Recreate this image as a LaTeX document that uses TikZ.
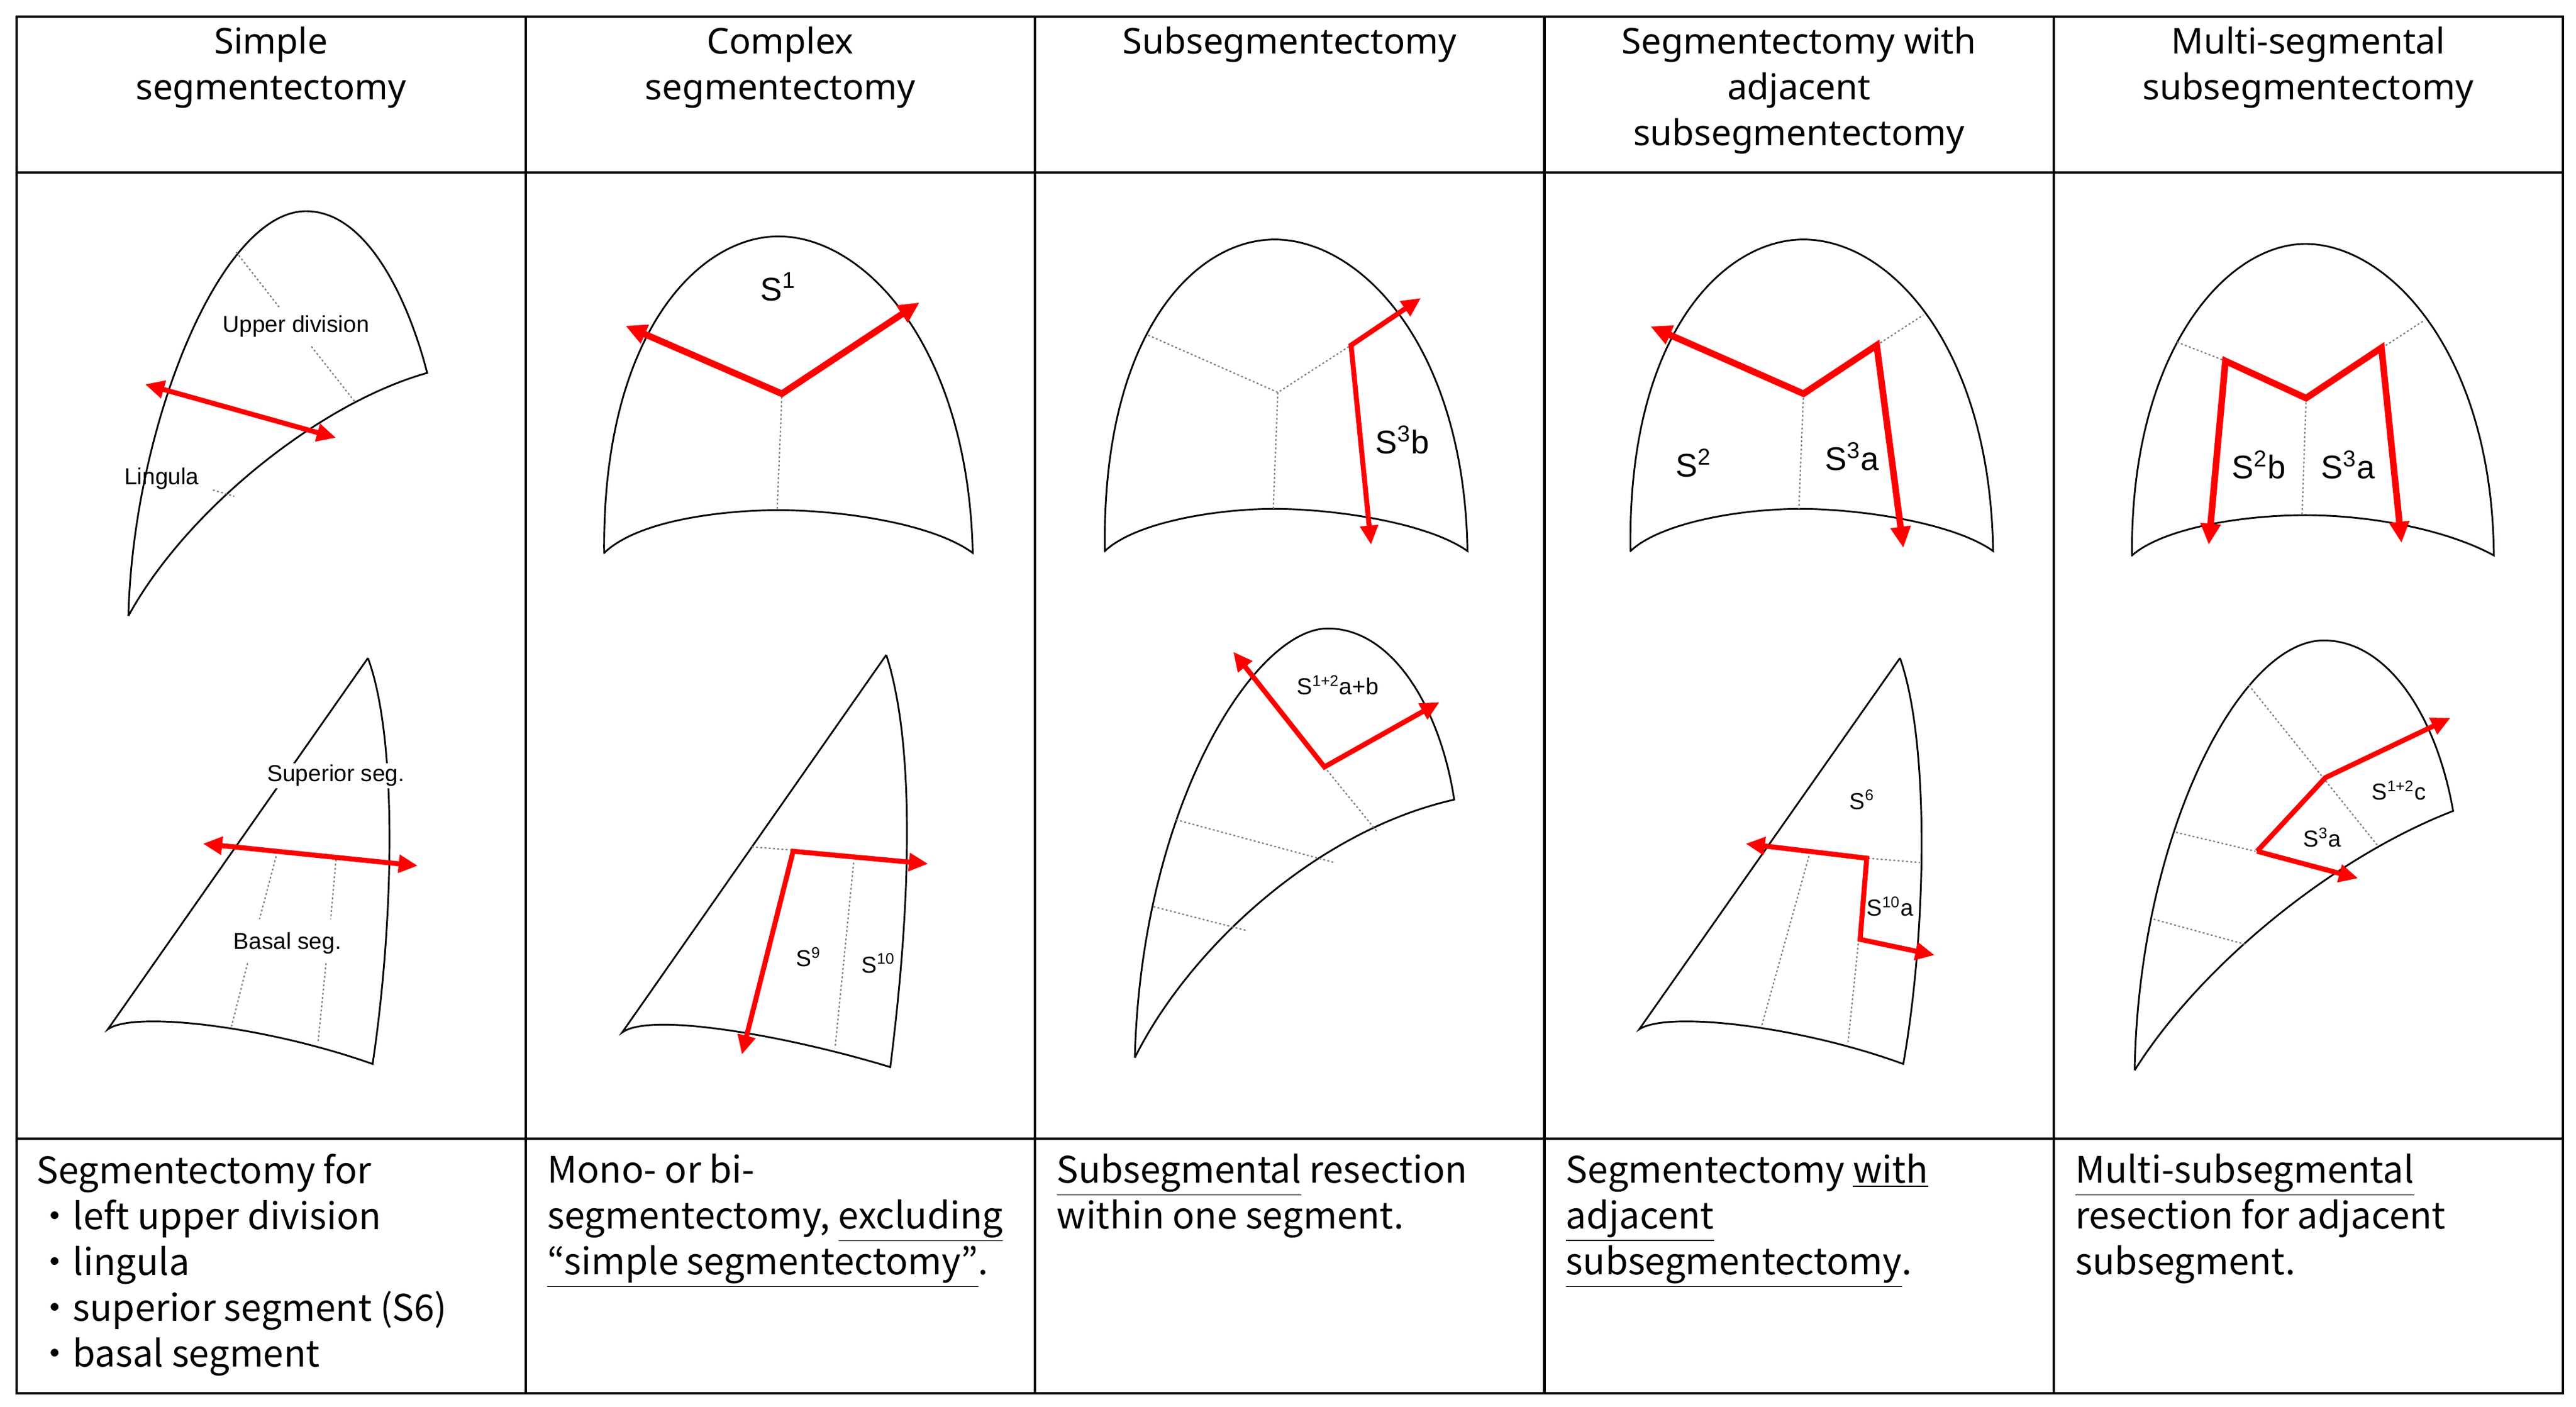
\documentclass[tikz,border=0pt]{standalone}
\usepackage{fontspec}
\setmainfont{Noto Sans CJK JP}
\newfontfamily\hdfont{Noto Sans}
\newfontfamily\lbfont{Liberation Sans}
\usetikzlibrary{arrows.meta}
\begin{document}
\begin{tikzpicture}[x=0.03cm,y=-0.03cm,
  grid/.style={line width=1.3pt,black},
  lobe/.style={line width=0.9pt,black},
  seg/.style={gray,line width=0.7pt,dash pattern=on 1pt off 1.2pt},
  cut/.style={red,line width=2.6pt,-{Triangle[length=10pt,width=9pt]}},
  bcut/.style={red,line width=2.6pt,{Triangle[length=10pt,width=9pt]}-{Triangle[length=10pt,width=9pt]}},
  tcut/.style={red,line width=3.4pt,-{Triangle[length=11pt,width=10pt]}},
  tbcut/.style={red,line width=3.4pt,{Triangle[length=11pt,width=10pt]}-{Triangle[length=11pt,width=10pt]}},
  head/.style={font=\hdfont\bfseries\fontsize{18.5}{23.8}\selectfont,align=center,anchor=north,inner sep=0pt},
  body/.style={font=\fontsize{19}{23.8}\selectfont,align=left,anchor=north west,inner sep=0pt},
  sl/.style={font=\lbfont\fontsize{12}{14}\selectfont,inner sep=1pt},
  bl/.style={font=\lbfont\fontsize{17}{20}\selectfont,inner sep=1pt}]
\useasboundingbox (0,0) rectangle (1568,856);
\fill[white] (0,0) rectangle (1568,856);
% table
\draw[grid] (10,10) rectangle (1560,848);
\draw[grid] (10,105) -- (1560,105);
\draw[grid] (10,693) -- (1560,693);
\foreach \x in {320,630,940,1250} \draw[grid] (\x,10) -- (\x,848);
% headers
\node[head] (h1) at (165,16) {Simple\\segmentectomy};
\node[head] (h2) at (475,16) {Complex\\segmentectomy};
\node[head] (h3) at (785,16) {Subsegmentectomy};
\node[head] (h4) at (1095,16) {Segmentectomy with\\adjacent\\subsegmentectomy};
\node[head] (h5) at (1405,16) {Multi-segmental\\subsegmentectomy};
% body texts
\node[body] (t1) at (22,702) {Segmentectomy for\\・left upper division\\・lingula\\・superior segment (S6)\\・basal segment};
\node[body] (t2) at (333,702) {Mono- or bi-\\segmentectomy, \underline{excluding}\\\underline{“simple segmentectomy”}.};
\node[body] (t3) at (643,702) {\underline{Subsegmental} resection\\within one segment.};
\node[body] (t4) at (953,702) {Segmentectomy \underline{with}\\\underline{adjacent}\\\underline{subsegmentectomy}.};
\node[body] (t5) at (1263,702) {\underline{Multi-subsegmental}\\resection for adjacent\\subsegment.};
% ---------- columns 1-2
\begin{scope}[shift={(0,88.3)},xscale=0.405,yscale=0.383]
 % panel 1 top
 \draw[lobe] (193,748) .. controls (200,450) and (330,105) .. (460,105) .. controls (560,105) and (620,270) .. (642,362) .. controls (480,410) and (280,580) .. (193,748);
 \draw[seg] (355,170) -- (420,258);
 \draw[seg] (468,320) -- (535,410);
 \draw[seg] (320,548) -- (352,558);
 \node[sl] (ud) at (445,288) {Upper division};
 \node[sl] (li) at (243,530) {Lingula};
 \coordinate (a1) at (218,380); \coordinate (a2) at (505,465);
 \draw[bcut] (a1) -- (a2);
 % panel 1 bottom
 \draw[lobe] (553,815) -- (162,1405) .. controls (200,1375) and (400,1400) .. (560,1460) .. controls (590,1250) and (600,950) .. (553,815);
 \draw[seg] (415,1130) -- (390,1230);
 \draw[seg] (505,1135) -- (497,1230);
 \draw[seg] (372,1300) -- (348,1400);
 \draw[seg] (490,1300) -- (478,1425);
 \node[sl,fill=white] (ss) at (505,1002) {Superior seg.};
 \node[sl,fill=white] (bs) at (432,1268) {Basal seg.};
 \coordinate (b1) at (305,1110); \coordinate (b2) at (628,1145);
 \draw[bcut] (b1) -- (b2);
 % panel 2 top
 \draw[lobe] (908,648) .. controls (905,300) and (1050,145) .. (1170,145) .. controls (1300,145) and (1455,320) .. (1462,648) .. controls (1400,600) and (1260,580) .. (1170,580) .. controls (1090,580) and (960,595) .. cycle;
 \draw[seg] (1175,400) -- (1168,580);
 \node[bl] (s1) at (1170,225) {S\textsuperscript{1}};
 \coordinate (c0) at (1175,395); \coordinate (c1) at (940,287); \coordinate (c2) at (1382,250);
 \draw[tbcut] (c1) -- (c0) -- (c2);
 % panel 2 bottom
 \draw[lobe] (1332,810) -- (935,1410) .. controls (980,1375) and (1200,1420) .. (1338,1465) .. controls (1370,1200) and (1375,950) .. (1332,810);
 \draw[seg] (1130,1115) -- (1190,1120);
 \draw[seg] (1283,1140) -- (1255,1435);
 \node[sl] (s9) at (1215,1290) {S\textsuperscript{9}};
 \node[sl] (s10) at (1320,1300) {S\textsuperscript{10}};
 \coordinate (d0) at (1192,1122); \coordinate (d1) at (1115,1445); \coordinate (d2) at (1395,1142);
 \draw[bcut] (d1) -- (d0) -- (d2);
\end{scope}
% ---------- columns 3-4
\begin{scope}[shift={(630,88.3)},xscale=0.405,yscale=0.383]
 % panel 3 top
 \draw[lobe] (105,645) .. controls (100,300) and (240,150) .. (360,150) .. controls (490,150) and (645,320) .. (650,645) .. controls (590,600) and (450,578) .. (360,578) .. controls (270,578) and (150,600) .. cycle;
 \draw[seg] (170,302) -- (365,393) -- (475,318);
 \draw[seg] (365,393) -- (358,578);
 \node[bl] (s3b) at (552,468) {S\textsuperscript{3}b};
 \coordinate (e0) at (475,318); \coordinate (e1) at (505,635); \coordinate (e2) at (580,243);
 \draw[bcut] (e1) -- (e0) -- (e2);
 % panel 3 bottom
 \draw[lobe] (150,1450) .. controls (160,1050) and (330,768) .. (440,768) .. controls (540,768) and (610,900) .. (630,1040) .. controls (420,1090) and (230,1280) .. (150,1450);
 \draw[seg] (435,988) -- (515,1092);
 \draw[seg] (212,1072) -- (450,1140);
 \draw[seg] (178,1210) -- (318,1248);
 \node[sl] (s12ab) at (455,858) {S\textsuperscript{1+2}a+b};
 \coordinate (f0) at (435,988); \coordinate (f1) at (298,805); \coordinate (f2) at (608,885);
 \draw[bcut] (f1) -- (f0) -- (f2);
 % panel 4 top
 \draw[lobe] (895,645) .. controls (890,300) and (1035,150) .. (1155,150) .. controls (1285,150) and (1435,320) .. (1440,645) .. controls (1380,600) and (1240,578) .. (1150,578) .. controls (1060,578) and (940,600) .. cycle;
 \draw[seg] (1155,395) -- (1148,578);
 \draw[seg] (1265,318) -- (1335,270);
 \node[bl] (s2) at (990,505) {S\textsuperscript{2}};
 \node[bl] (s3a) at (1228,495) {S\textsuperscript{3}a};
 \coordinate (g0) at (1155,395); \coordinate (g1) at (925,288); \coordinate (g2) at (1265,318); \coordinate (g3) at (1305,640);
 \draw[tbcut] (g1) -- (g0) -- (g2) -- (g3);
 % panel 4 bottom
 \draw[lobe] (1300,815) -- (908,1405) .. controls (950,1375) and (1150,1400) .. (1305,1460) .. controls (1340,1250) and (1345,950) .. (1300,815);
 \draw[seg] (1252,1133) -- (1330,1140);
 \draw[seg] (1165,1123) -- (1092,1400);
 \draw[seg] (1238,1262) -- (1222,1425);
 \node[sl] (s6) at (1243,1040) {S\textsuperscript{6}};
 \node[sl] (s10a) at (1285,1210) {S\textsuperscript{10}a};
 \coordinate (k0) at (1250,1133); \coordinate (k1) at (1068,1110); \coordinate (k2) at (1240,1262); \coordinate (k3) at (1352,1287);
 \draw[bcut] (k1) -- (k0) -- (k2) -- (k3);
\end{scope}
% ---------- column 5
\begin{scope}[shift={(1249,88.3)},xscale=0.203,yscale=0.383]
 \draw[lobe] (240,652) .. controls (235,330) and (520,157) .. (760,157) .. controls (1010,157) and (1320,330) .. (1325,652) .. controls (1180,610) and (950,588) .. (760,588) .. controls (560,588) and (330,610) .. cycle;
 \draw[seg] (375,313) -- (520,343);
 \draw[seg] (990,322) -- (1118,278);
 \draw[seg] (762,402) -- (750,588);
 \node[bl] (s2b) at (620,508) {S\textsuperscript{2}b};
 \node[bl] (s3a5) at (888,508) {S\textsuperscript{3}a};
 \coordinate (m0) at (520,343); \coordinate (m1) at (470,635); \coordinate (m2) at (762,402); \coordinate (m3) at (988,322); \coordinate (m4) at (1048,632);
 \draw[tbcut] (m1) -- (m0) -- (m2) -- (m3) -- (m4);
 \draw[lobe] (248,1470) .. controls (260,1100) and (560,787) .. (815,787) .. controls (1000,787) and (1150,900) .. (1203,1058) .. controls (850,1130) and (450,1300) .. (248,1470);
 \draw[seg] (590,858) -- (975,1112);
 \draw[seg] (372,1092) -- (610,1122);
 \draw[seg] (305,1230) -- (580,1270);
 \node[sl] (s3a6) at (810,1100) {S\textsuperscript{3}a};
 \node[sl] (s12c) at (1040,1025) {S\textsuperscript{1+2}c};
 \coordinate (n0) at (615,1122); \coordinate (n1) at (820,1005); \coordinate (n2) at (1195,910); \coordinate (n3) at (918,1165);
 \draw[cut] (n0) -- (n1) -- (n2);
 \draw[cut] (n0) -- (n3);
\end{scope}
\end{tikzpicture}
\end{document}
